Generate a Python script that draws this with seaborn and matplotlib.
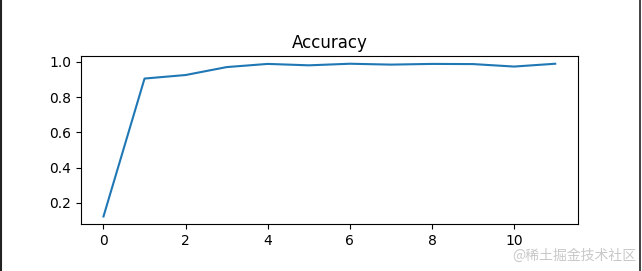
import matplotlib
matplotlib.use("Agg")
import matplotlib.pyplot as plt
import seaborn as sns
import pandas as pd
from matplotlib.lines import Line2D

epochs = [0, 1, 2, 3, 4, 5, 6, 7, 8, 9, 10, 11]
accuracy = [0.123, 0.905, 0.925, 0.970, 0.988, 0.980, 0.989, 0.984, 0.988, 0.987, 0.973, 0.989]
title = "Accuracy"
watermark = "@稀土掘金技术社区"

df = pd.DataFrame({"epoch": epochs, "accuracy": accuracy})

fig = plt.figure(figsize=(6.42, 2.71), dpi=100)
ax = fig.add_axes([0.126, 0.173, 0.774, 0.62])
sns.lineplot(data=df, x="epoch", y="accuracy", ax=ax, color="#1f77b4", linewidth=1.5)
ax.set_title(title, fontsize=12)
ax.set_xlabel("")
ax.set_ylabel("")
ax.set_xticks([0, 2, 4, 6, 8, 10])
ax.set_yticks([0.2, 0.4, 0.6, 0.8, 1.0])

fig.text(0.992, 0.03, watermark, ha="right", va="bottom", fontsize=10,
         color="#c8c8c8", family=["Noto Sans CJK SC", "DejaVu Sans"])

fig.add_artist(Line2D([0.001, 0.001], [0, 1], transform=fig.transFigure, color="#222222", linewidth=1.5))
fig.add_artist(Line2D([0.9975, 0.9975], [0, 1], transform=fig.transFigure, color="#222222", linewidth=1.2))

fig.savefig("out.png", dpi=100)
